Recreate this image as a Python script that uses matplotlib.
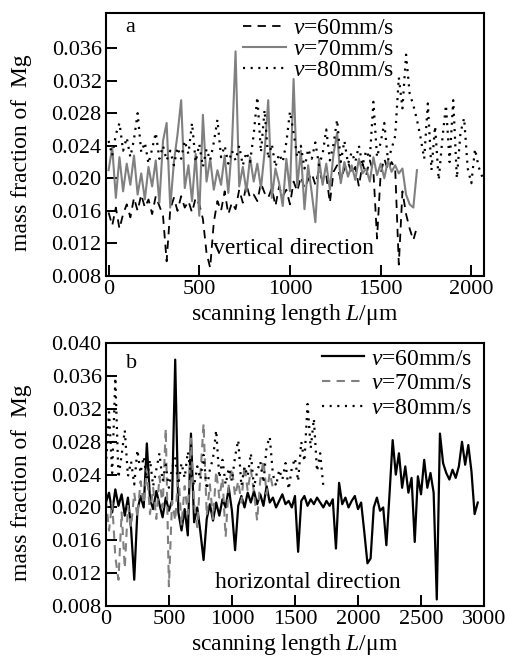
import numpy as np
import matplotlib
matplotlib.use("Agg")
import matplotlib.pyplot as plt

plt.rcParams['font.family'] = ['Liberation Serif', 'DejaVu Serif']
plt.rcParams['mathtext.fontset'] = 'custom'
plt.rcParams['mathtext.rm'] = 'Liberation Serif'
plt.rcParams['mathtext.it'] = 'Liberation Serif:italic'
plt.rcParams['lines.scale_dashes'] = False

# ---- panel a : vertical direction (values in 1e-3 mass fraction) ----
step_a = 20
a60 = [15.8, 14.2, 16.4, 13.8, 15.6, 16.8, 15.2, 17.6, 16.0, 18.0, 16.4, 17.4, 15.6, 17.8, 16.6, 15.4,
       9.8, 16.2, 17.6, 16.0, 17.8, 16.4, 17.2, 15.8, 17.6, 16.8, 15.0, 10.8, 9.0, 14.6, 17.2, 16.0,
       18.4, 15.6, 17.0, 16.2, 18.6, 17.0, 19.2, 17.6, 18.0, 17.2, 19.4, 18.2, 17.6, 18.8, 16.6, 19.0,
       17.8, 18.6, 16.8, 19.6, 18.4, 20.2, 18.8, 19.8, 20.6, 19.2, 21.0, 19.6, 20.4, 17.0, 20.8, 21.6,
       19.8, 21.2, 22.0, 20.6, 21.4, 19.0, 21.8, 20.4, 22.2, 20.8, 12.6, 20.6, 22.4, 21.0, 22.0, 21.2,
       9.4, 18.4, 15.6, 13.8, 12.4, 14.0]
a70 = [21.0, 23.8, 17.6, 22.6, 18.4, 21.8, 19.2, 22.8, 18.0, 20.6, 17.4, 21.4, 19.0, 22.2, 17.0, 24.6,
       26.8, 16.4, 22.0, 25.4, 29.6, 18.8, 21.6, 17.2, 23.0, 15.4, 27.8, 19.6, 22.4, 18.6, 21.0, 19.2,
       22.8, 18.2, 24.0, 35.6, 19.0, 21.4, 18.4, 22.6, 19.6, 21.8, 18.8, 23.2, 29.6, 17.6, 21.2, 19.4,
       16.6, 22.4, 18.4, 32.2, 19.0, 23.4, 16.2, 21.6, 18.2, 14.6, 22.4, 19.2, 21.8, 18.6, 23.0, 25.6,
       19.4, 22.0, 20.2, 21.6, 19.8, 22.4, 20.6, 21.2, 19.6, 22.6, 20.4, 21.8, 20.0, 22.2, 20.8, 21.6,
       20.6, 21.2, 18.0, 16.8, 16.4, 21.0]
a80 = [24.6, 22.8, 25.4, 26.8, 23.4, 25.0, 22.6, 24.8, 28.0, 23.2, 24.4, 21.8, 23.6, 25.6, 22.4, 24.0,
       22.2, 23.4, 21.6, 23.8, 22.4, 24.6, 23.0, 26.8, 22.0, 24.2, 21.4, 23.6, 22.2, 24.4, 27.2, 22.6,
       24.0, 21.8, 23.4, 22.2, 24.0, 21.6, 23.2, 22.0, 25.4, 30.0, 23.2, 28.4, 22.4, 24.2, 21.4, 23.0,
       22.0, 24.4, 28.2, 25.6, 22.6, 24.0, 21.2, 23.6, 22.4, 24.4, 21.6, 23.0, 26.0, 22.2, 24.2, 27.2,
       22.0, 24.6, 21.8, 23.2, 22.0, 24.0, 21.6, 23.4, 22.4, 29.4, 22.6, 24.4, 26.8, 22.2, 23.6, 25.2,
       32.4, 28.6, 35.2, 30.4, 29.0, 27.2, 25.0, 22.4, 29.2, 21.0, 26.4, 19.8, 24.8, 29.0, 22.0, 29.6,
       20.0, 25.6, 27.4, 21.2, 19.4, 23.6, 21.4, 20.2]

# ---- panel b : horizontal direction ----
step_b = 25
b60 = [20.6, 21.8, 19.4, 22.2, 20.2, 21.6, 19.0, 21.2, 17.4, 11.2, 19.6, 21.4, 20.0, 27.8, 21.0, 19.8,
       22.0, 20.4, 18.8, 21.2, 19.6, 20.8, 38.0, 19.4, 17.2, 19.8, 16.6, 29.0, 18.2, 20.0, 17.0, 13.6,
       18.6, 20.4, 18.4, 20.6, 19.0, 21.0, 20.0, 22.4, 19.6, 14.8, 20.2, 21.4, 20.0, 21.8, 20.6, 22.0,
       20.4, 21.6, 20.2, 22.6, 20.6, 21.2, 20.0, 20.8, 21.6, 20.4, 20.8, 20.0, 21.4, 14.6, 20.8, 21.4,
       20.2, 21.0, 20.4, 21.2, 20.6, 20.0, 20.8, 20.2, 21.0, 15.0, 23.0, 20.4, 21.2, 20.0, 20.8, 21.4,
       19.8, 20.6, 17.0, 13.2, 13.8, 20.0, 21.2, 19.6, 20.0, 15.4, 21.6, 28.2, 24.0, 26.6, 22.4, 25.0,
       21.8, 23.6, 15.8, 23.8, 21.6, 25.8, 22.4, 24.2, 21.8, 8.8, 29.0, 25.4, 24.2, 23.4, 24.6, 23.6,
       25.0, 28.0, 25.2, 27.6, 24.4, 19.2, 20.6]
b70 = [21.0, 17.2, 20.6, 14.0, 11.2, 19.4, 12.6, 20.2, 17.6, 21.8, 18.8, 23.2, 20.4, 24.6, 19.2, 22.4,
       18.6, 23.8, 20.0, 29.6, 10.4, 20.8, 18.4, 24.2, 17.8, 22.6, 19.2, 28.4, 20.4, 17.6, 24.0, 30.2,
       19.0, 22.8, 18.6, 24.4, 21.2, 23.6, 16.4, 22.8, 24.8, 21.4, 23.2, 20.6, 25.2, 22.0, 24.6, 21.8,
       18.4, 23.4, 25.8, 21.6, 24.2, 22.4, 23.0]
b80 = [25.0, 31.6, 24.2, 35.8, 23.6, 26.4, 29.4, 23.8, 25.6, 22.8, 27.0, 24.2, 26.2, 23.4, 25.8, 22.6,
       24.6, 26.6, 23.2, 25.2, 22.4, 24.8, 26.0, 22.8, 25.4, 23.6, 26.8, 24.0, 22.6, 25.0, 23.4, 26.4,
       22.2, 24.6, 26.0, 29.4, 23.6, 25.8, 22.8, 24.8, 23.2, 26.2, 28.2, 22.6, 25.0, 23.8, 26.6, 22.4,
       24.4, 25.6, 23.0, 27.4, 28.6, 24.0, 22.6, 24.6, 23.4, 25.4, 22.2, 24.8, 26.0, 23.2, 28.0, 25.6,
       32.6, 27.2, 30.8, 24.4, 26.6, 22.6]

speeds = ['60', '70', '80']
ylab = 'mass fraction of  Mg'
xlab = 'scanning length $\\mathit{L}$/μm'


def xs(vals, step):
    return np.arange(len(vals)) * step


def style_axes(ax, yticks, xticks):
    ax.set_yticks(yticks)
    ax.set_yticklabels(['%.3f' % t for t in yticks])
    ax.set_xticks(xticks)
    ax.tick_params(direction='in', length=8, width=1.4, labelsize=16, pad=3,
                   top=False, right=False)
    for s in ax.spines.values():
        s.set_linewidth(1.5)
    ax.set_ylabel(ylab, fontsize=17)
    ax.set_xlabel(xlab, fontsize=17, labelpad=2)
    ax.yaxis.set_label_coords(-0.195, 0.47)


fig = plt.figure(figsize=(5.09, 6.57), dpi=100)

dash = (0, (6, 4.5))
dots = (0, (1.5, 4))
gray = '0.5'

ax1 = fig.add_axes([0.208, 0.580, 0.743, 0.400])
ax1.plot(xs(a60, step_a), np.array(a60) / 1000, color='k', lw=1.3, ls=dash, label='$v$=%smm/s' % speeds[0])
ax1.plot(xs(a70, step_a), np.array(a70) / 1000, color=gray, lw=1.5, ls='-', label='$v$=%smm/s' % speeds[1])
ax1.plot(xs(a80, step_a), np.array(a80) / 1000, color='k', lw=1.6, ls=dots, label='$v$=%smm/s' % speeds[2])
ax1.set_xlim(-15, 2070)
ax1.set_ylim(0.008, 0.0403)
style_axes(ax1, np.arange(0.008, 0.0361, 0.004), [0, 500, 1000, 1500, 2000])
ax1.text(0.05, 0.945, 'a', transform=ax1.transAxes, fontsize=16, va='center')
ax1.text(0.283, 0.106, 'vertical direction', transform=ax1.transAxes, fontsize=17, va='center')
ax1.legend(loc='upper right', bbox_to_anchor=(0.762, 0.983), frameon=False, fontsize=17,
           handlelength=1.8, handletextpad=0.3, labelspacing=-0.02, borderpad=0, borderaxespad=0)

ax2 = fig.add_axes([0.208, 0.0776, 0.743, 0.400])
ax2.plot(xs(b60, step_b), np.array(b60) / 1000, color='k', lw=1.6, ls='-', label='$v$=%smm/s' % speeds[0])
ax2.plot(xs(b70, step_b), np.array(b70) / 1000, color=gray, lw=1.5, ls=dash, label='$v$=%smm/s' % speeds[1])
ax2.plot(xs(b80, step_b), np.array(b80) / 1000, color='k', lw=1.6, ls=dots, label='$v$=%smm/s' % speeds[2])
ax2.set_xlim(0, 3000)
ax2.set_ylim(0.008, 0.040)
style_axes(ax2, np.arange(0.008, 0.0401, 0.004), [0, 500, 1000, 1500, 2000, 2500, 3000])
ax2.text(0.053, 0.924, 'b', transform=ax2.transAxes, fontsize=16, va='center')
ax2.text(0.288, 0.091, 'horizontal direction', transform=ax2.transAxes, fontsize=17, va='center')
ax2.legend(loc='upper right', bbox_to_anchor=(0.969, 0.981), frameon=False, fontsize=17,
           handlelength=1.8, handletextpad=0.3, labelspacing=0.13, borderpad=0, borderaxespad=0)

fig.savefig('out.png', dpi=100)
